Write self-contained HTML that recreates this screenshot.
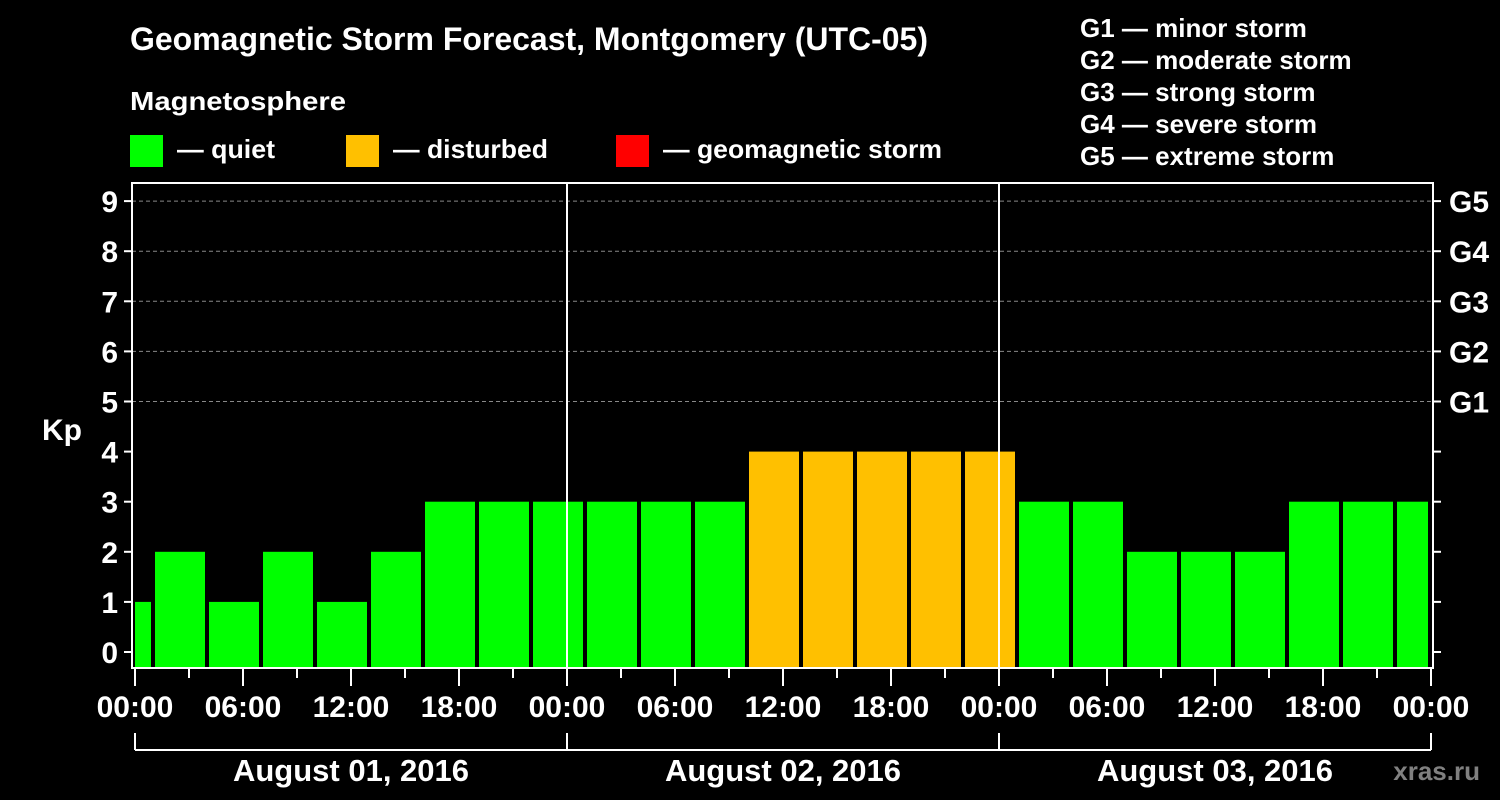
<!DOCTYPE html>
<html><head><meta charset="utf-8"><style>
body{margin:0;background:#000;}
svg{display:block;font-family:"Liberation Sans",Arial,sans-serif;font-weight:bold;}
</style></head><body>
<svg id="c" width="1500" height="800" viewBox="0 0 1500 800">
<rect width="1500" height="800" fill="#000"/>
<text x="130" y="50" fill="#fff" font-size="32" textLength="798" lengthAdjust="spacingAndGlyphs">Geomagnetic Storm Forecast, Montgomery (UTC-05)</text>
<text x="130" y="110" fill="#fff" font-size="26" textLength="216" lengthAdjust="spacingAndGlyphs">Magnetosphere</text>
<g><rect x="130" y="135" width="33" height="32" fill="#00ff00"/><text x="177" y="158" fill="#fff" font-size="26" textLength="98" lengthAdjust="spacingAndGlyphs">— quiet</text></g>
<g><rect x="346" y="135" width="33" height="32" fill="#ffc000"/><text x="393" y="158" fill="#fff" font-size="26" textLength="155" lengthAdjust="spacingAndGlyphs">— disturbed</text></g>
<g><rect x="616" y="135" width="33" height="32" fill="#ff0000"/><text x="663" y="158" fill="#fff" font-size="26" textLength="279" lengthAdjust="spacingAndGlyphs">— geomagnetic storm</text></g>
<g fill="#fff" font-size="26">
<text x="1080" y="37">G1 — minor storm</text>
<text x="1080" y="69">G2 — moderate storm</text>
<text x="1080" y="101">G3 — strong storm</text>
<text x="1080" y="133">G4 — severe storm</text>
<text x="1080" y="165">G5 — extreme storm</text>
</g>
<text x="42" y="440" fill="#fff" font-size="30">Kp</text>
<text x="1480" y="780" fill="#808080" font-size="26" text-anchor="end">xras.ru</text>
<g id="plot"></g>
</svg>
<script>
const kpValues=[1,2,1,2,1,2,3,3,3,3,3,3,4,4,4,4,4,3,3,2,2,2,3,3,3];
const yTicks=[0,1,2,3,4,5,6,7,8,9];
const gLabels=["G1","G2","G3","G4","G5"];
const dayLabels=["August 01, 2016","August 02, 2016","August 03, 2016"];
const hourLabels=["00:00","06:00","12:00","18:00"];
const NS="http://www.w3.org/2000/svg";
const g=document.getElementById('plot');
const X0=135,PXH=18,TOT=72;
const xs=h=>X0+h*PXH;
const ys=v=>652-v*50.1;
const L=132,R=1433,T=183,B=668;
function el(t,a,p){const e=document.createElementNS(NS,t);for(const k in a)e.setAttribute(k,a[k]);(p||g).appendChild(e);return e;}
kpValues.forEach((v,k)=>{
 let h0=-2+3*k,h1=h0+3;
 let x0=Math.max(xs(h0)+2,xs(0)),x1=Math.min(xs(h1)-2,xs(TOT)-3);
 const r=el('rect',{x:x0,y:ys(v),width:x1-x0,height:B-ys(v),fill:v>=5?'#ff0000':v>=4?'#ffc000':'#00ff00'});
 
 
});
for(let v=5;v<=9;v++){
 const l=el('line',{x1:L,x2:R,y1:ys(v),y2:ys(v),stroke:'#888','stroke-dasharray':'4,3','stroke-width':1});
 
 
}
[1,2].forEach(d=>{
 const l=el('line',{x1:xs(24*d),x2:xs(24*d),y1:T,y2:B,stroke:'#fff','stroke-width':2});
 
 
});
const fr=el('rect',{x:L,y:T,width:R-L,height:B-T,fill:'none',stroke:'#fff','stroke-width':2});


yTicks.forEach(v=>{
 el('line',{x1:L-8,x2:L,y1:ys(v),y2:ys(v),stroke:'#fff','stroke-width':2});
 el('line',{x1:R,x2:R+8,y1:ys(v),y2:ys(v),stroke:'#fff','stroke-width':2});
 const t=el('text',{x:118,y:ys(v)+11,fill:'#fff','font-size':30,'text-anchor':'end'});
 t.textContent=v;
 
 
});
gLabels.forEach((s,i)=>{
 const t=el('text',{x:1449,y:ys(5+i)+11,fill:'#fff','font-size':30});
 t.textContent=s;
 
 
});
for(let h=0;h<=TOT;h+=3){
 const major=h%6===0;
 el('line',{x1:xs(h),x2:xs(h),y1:B,y2:major?686:678,stroke:'#fff','stroke-width':2});
 if(major){
  const t=el('text',{x:xs(h),y:717,fill:'#fff','font-size':30,'text-anchor':'middle'});
  t.textContent=hourLabels[(h%24)/6];
  
  
 }
}
el('line',{x1:xs(0),x2:xs(TOT),y1:750,y2:750,stroke:'#fff','stroke-width':2});
for(let d=0;d<=3;d++) el('line',{x1:xs(24*d),x2:xs(24*d),y1:733,y2:750,stroke:'#fff','stroke-width':2});
dayLabels.forEach((s,d)=>{
 const t=el('text',{x:xs(24*d+12),y:781,fill:'#fff','font-size':31,'text-anchor':'middle'});
 t.textContent=s;
 
 
});
</script>
</body></html>
